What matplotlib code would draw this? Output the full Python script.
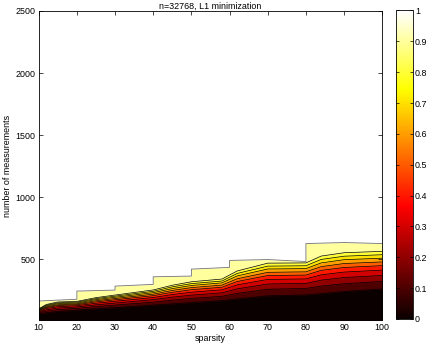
#Import libraries
import numpy as np
import matplotlib.pyplot as plt
from matplotlib.colors import Normalize
from matplotlib.cm import ScalarMappable

plt.rcParams['font.family'] = ['Liberation Sans', 'DejaVu Sans']

#Sparsity positions where the contour lines were read
sparsity = [10, 12, 15, 20, 25, 30, 40, 45, 50, 58, 62, 70, 80, 84, 90, 100]

m_p10 = [60, 68, 78, 90, 100, 110, 130, 140, 150, 166, 180, 205, 212, 222, 240, 260]
m_p20 = [68, 81, 93, 104, 118, 130, 154, 170, 184, 201, 225, 258, 264, 283, 302, 321]
m_p30 = [74, 92, 106, 115, 132, 146, 174, 194, 210, 229, 261, 300, 305, 331, 352, 369]
m_p40 = [80, 102, 117, 125, 145, 161, 191, 215, 234, 253, 293, 337, 341, 374, 396, 412]
m_p50 = [85, 110, 126, 133, 156, 173, 206, 233, 254, 274, 320, 368, 372, 410, 433, 448]
m_p60 = [89, 116, 133, 140, 165, 183, 218, 248, 271, 291, 342, 394, 398, 440, 465, 478]
m_p70 = [93, 123, 141, 147, 174, 193, 230, 263, 288, 309, 365, 421, 424, 470, 496, 508]
m_p80 = [96, 129, 148, 154, 182, 202, 241, 277, 303, 324, 385, 444, 447, 498, 524, 536]
m_p90 = [100, 135, 155, 160, 190, 211, 252, 290, 318, 340, 405, 468, 470, 525, 552, 563]

#Largest number of measurements tried (edge of the data)
top_sparsity = [10, 20, 20, 30, 30, 40, 40, 50, 50, 60, 60, 70, 80, 80, 90, 100]
top_measurements = [163, 177, 243, 251, 283, 297, 358, 364, 420, 434, 490, 497, 481, 626, 634, 626]

levels = [0.1, 0.2, 0.3, 0.4, 0.5, 0.6, 0.7, 0.8, 0.9]
level_lines = [m_p10, m_p20, m_p30, m_p40, m_p50, m_p60, m_p70, m_p80, m_p90]

fs = 6.4
cmap = plt.cm.hot
ymin = 10

fig = plt.figure(figsize=(4.29, 3.44), dpi=100)
ax = fig.add_axes([0.0902, 0.0698, 0.8009, 0.8983])

#top band first, then paint the lower bands over it
ax.fill_between(top_sparsity, ymin, top_measurements, color=cmap(0.9), lw=0)
for lev, line in zip(levels[::-1], level_lines[::-1]):
    ax.fill_between(sparsity, ymin, line, color=cmap(lev - 0.1), lw=0)
for line in level_lines:
    ax.plot(sparsity, line, color='k', lw=0.5)
ax.plot(top_sparsity, top_measurements, color='0.45', lw=0.6)

ax.set_xlim(10, 100)
ax.set_ylim(ymin, 2500)
ax.set_xticks(np.arange(10, 101, 10))
ax.set_yticks(np.arange(500, 2501, 500))
ax.tick_params(direction='in', top=True, right=True, length=3, width=0.5,
               labelsize=fs, pad=2.5)
for sp in ax.spines.values():
    sp.set_linewidth(0.6)
ax.set_title('n=32768, L1 minimization', fontsize=fs, pad=1.5)
ax.set_xlabel('sparsity', fontsize=fs, labelpad=1)
ax.set_ylabel('number of measurements', fontsize=fs, labelpad=2)

#colorbar
cax = fig.add_axes([0.9231, 0.0727, 0.0396, 0.8968])
sm = ScalarMappable(cmap=cmap, norm=Normalize(0, 1))
cb = fig.colorbar(sm, cax=cax, ticks=np.arange(0, 1.01, 0.1))
cb.ax.set_yticklabels(['0', '0.1', '0.2', '0.3', '0.4', '0.5', '0.6', '0.7', '0.8', '0.9', '1'])
cb.ax.tick_params(direction='in', left=True, right=True, length=2, width=0.5,
                  labelsize=fs, pad=1.5)
cb.outline.set_linewidth(0.6)

fig.savefig('out.png', dpi=100)
